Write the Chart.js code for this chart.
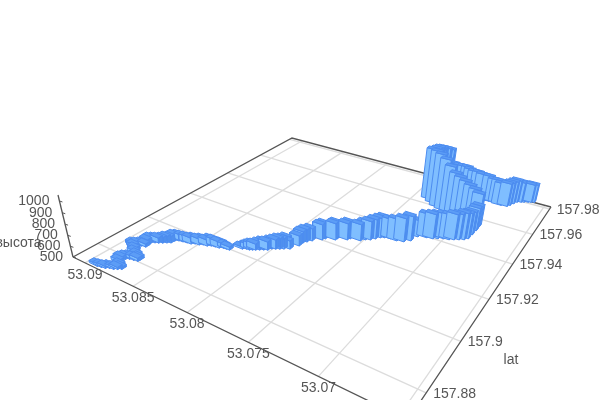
<!DOCTYPE html>
<html><head><meta charset="utf-8">
<style>html,body{margin:0;padding:0;background:#fff}canvas{display:block}</style>
<script src="https://cdn.jsdelivr.net/npm/chart.js@4"></script></head>
<body><canvas id="c" width="600" height="400"></canvas>
<script>
const lonTicks=[53.09,53.085,53.08,53.075,53.07,53.065];
const latTicks=[157.98,157.96,157.94,157.92,157.9,157.88];
const altTicks=[500,600,700,800,900,1000];
const lonLabels=['53.09','53.085','53.08','53.075','53.07'];
const latLabels=['157.98','157.96','157.94','157.92','157.9','157.88'];
const barLon=[53.08933,53.08899,53.08866,53.08842,53.08809,53.08785,53.08762,53.08798,53.08834,53.08852,53.08839,53.08815,53.08780,53.08746,53.08744,53.08787,53.08830,53.08861,53.08899,53.08927,53.08902,53.08878,53.08842,53.08851,53.08854,53.08828,53.08803,53.08778,53.08753,53.08728,
53.08724,53.08698,53.08663,53.08627,53.08592,53.08567,53.08532,53.08507,53.08472,53.08447,53.08413,53.08379,53.08354,53.08326,53.08298,53.08227,53.08202,53.08175,53.08156,53.08137,53.08113,53.08088,53.08063,53.08047,53.08022,53.07997,53.07972,53.07956,53.07935,53.07903,
53.07903,53.07886,53.07862,53.07807,53.07795,53.07724,53.07719,53.07647,53.07636,53.07557,53.07532,53.07500,53.07475,53.07451,53.07425,53.07379,53.07327,53.07276,53.07238,53.07219,53.07155,53.07110,53.07078,53.07039,53.07001,53.06969,53.06937,53.06905,53.06885,53.06881,
53.06878,53.06880,53.06899,53.06937,53.06983,53.07029,53.07076,53.07123,53.07171,53.07220,53.07276,53.07334,53.07393,53.07395,53.07389,53.07375,53.07353,53.07332,53.07279,53.07235,53.07198,53.07162,53.07133,53.07097,53.07061,53.07019,53.06998,53.06962,53.06920,53.06886,
53.06852,53.06804,53.06788,53.06772,53.06756,53.06727,53.06706,53.06677,53.06656,53.06634];
const barLat=[157.8727,157.8730,157.8733,157.8740,157.8743,157.8749,157.8756,157.8764,157.8773,157.8787,157.8797,157.8804,157.8807,157.8810,157.8817,157.8825,157.8832,157.8844,157.8854,157.8860,157.8866,157.8873,157.8876,157.8888,157.8901,157.8908,157.8914,157.8921,157.8928,157.8935,
157.8950,157.8957,157.8960,157.8963,157.8965,157.8972,157.8975,157.8982,157.8984,157.8991,157.8994,157.8996,157.9003,157.9004,157.9005,157.9031,157.9038,157.9039,157.9044,157.9049,157.9056,157.9063,157.9069,157.9081,157.9087,157.9094,157.9101,157.9113,157.9111,157.9141,
157.9162,157.9173,157.9187,157.9209,157.9220,157.9232,157.9241,157.9253,157.9264,157.9271,157.9285,157.9293,157.9307,157.9322,157.9329,157.9334,157.9334,157.9341,157.9358,157.9392,157.9403,157.9408,157.9417,157.9427,157.9431,157.9439,157.9448,157.9457,157.9470,157.9500,
157.9531,157.9560,157.9571,157.9576,157.9579,157.9583,157.9586,157.9590,157.9593,157.9597,157.9607,157.9626,157.9645,157.9681,157.9702,157.9715,157.9731,157.9746,157.9741,157.9744,157.9745,157.9746,157.9744,157.9745,157.9746,157.9739,157.9745,157.9746,157.9749,157.9749,
157.9741,157.9745,157.9758,157.9776,157.9794,157.9802,157.9808,157.9816,157.9821,157.9827];
const barAlt=[519,519,519,519,519,519,519,519,528,528,528,528,528,528,528,528,529,529,529,529,529,529,529,548,548,548,548,548,558,558,
558,558,558,558,558,558,558,558,558,567,567,558,548,538,529,519,529,548,557,557,567,577,577,577,586,596,596,596,577,596,
606,616,616,645,645,655,655,655,655,654,664,674,683,684,693,683,702,720,730,656,722,731,731,731,730,740,740,749,740,714,
715,698,794,815,835,855,876,896,945,994,1016,1011,996,971,963,954,936,917,794,783,782,782,771,760,760,759,749,748,727,727,
716,726,726,722,717,697,687,687,677,677];
// camera: ground-plane corners on screen plus the vertical vanishing point
const A={x:73,y:257},B={x:408,y:420},C={x:551,y:207},D={x:292,y:138};
const det=(p,q)=>p.x*q.y-p.y*q.x;
const dx1={x:B.x-C.x,y:B.y-C.y},dx2={x:D.x-C.x,y:D.y-C.y},s={x:A.x-B.x+C.x-D.x,y:A.y-B.y+C.y-D.y};
const g=det(s,dx2)/det(dx1,dx2),h=det(dx1,s)/det(dx1,dx2);
const a=B.x-A.x+g*B.x,b=D.x-A.x+h*D.x,c0=A.x,d=B.y-A.y+g*B.y,e=D.y-A.y+h*D.y,f=A.y;
const c3=-15/242,cx=300*c3,cy=195*(1+c3)-257;
function proj(u,v,z){const w=g*u+h*v+1+c3*z;return {x:(a*u+b*v+c0+cx*z)/w,y:(d*u+e*v+f+cy*z)/w};}
const uOf=lon=>(53.09134-lon)/(53.09134-53.0645);
const vOf=lat=>(lat-157.871)/(157.9817-157.871);
const zOf=alt=>(alt-500)/550;
function line(pts,col,w){return {data:pts,showLine:true,pointRadius:0,borderColor:col,borderWidth:w,fill:false,tension:0};}
const du=.033,dv=.016;
function poly(pts,col){return {data:[...pts,pts[0]],showLine:true,pointRadius:0,borderColor:'#4c8cf0',borderWidth:1,backgroundColor:col,fill:'shape',tension:0};}
const bars=barLon.map((lon,i)=>({u:uOf(lon),v:vOf(barLat[i]),z:zOf(barAlt[i])}));
bars.sort((m,n)=>(g*m.u+h*m.v)-(g*n.u+h*n.v));
const barSets=[];
bars.forEach(r=>{const u0=r.u-du/2,u1=r.u+du/2,v0=r.v-dv/2,v1=r.v+dv/2,z=r.z;
 barSets.push(poly([proj(u0,v0,z),proj(u1,v0,z),proj(u1,v1,z),proj(u0,v1,z)],'#5c9df6'));
 barSets.push(poly([proj(u0,v0,0),proj(u1,v0,0),proj(u1,v0,z),proj(u0,v0,z)],'#7fbeff'));
 barSets.push(poly([proj(u1,v0,0),proj(u1,v1,0),proj(u1,v1,z),proj(u1,v0,z)],'#4f90ee'));
});
const gridSets=[];
lonTicks.forEach(t=>gridSets.push(line([proj(uOf(t),0,0),proj(uOf(t),1,0)],'#dcdcdc',1.3)));
latTicks.forEach(t=>gridSets.push(line([proj(0,vOf(t),0),proj(1,vOf(t),0)],'#dcdcdc',1.3)));
const axisSets=[line([proj(0,0,0),proj(0,1,0),proj(1,1,0)],'#555',1.3),line([proj(0,0,0),proj(1,0,0),proj(1,1,0)],'#555',1.3),line([proj(0,0,0),proj(0,0,1)],'#555',1.3)];
altTicks.forEach(t=>{const p=proj(0,0,zOf(t));axisSets.push(line([p,{x:p.x+3,y:p.y+1}],'#555',1));});
const labels={id:'labels',afterDatasetsDraw(ch){const x=ch.ctx;x.save();x.fillStyle='#555';x.font='14px "Liberation Sans",Arial,sans-serif';x.textBaseline='middle';
 x.textAlign='center';lonTicks.slice(0,5).forEach((t,i)=>{const p=proj(uOf(t),0,0);x.fillText(lonLabels[i],p.x,p.y+12);});
 x.textAlign='left';latTicks.forEach((t,i)=>{const p=proj(1,vOf(t),0);x.fillText(latLabels[i],p.x+7,p.y+1);});
 x.textAlign='right';altTicks.forEach(t=>{const p=proj(0,0,zOf(t));x.fillText(String(t),p.x-10,p.y);});
 x.textAlign='center';x.fillText('высота',18.5,243);x.fillText('lat',511,360);x.restore();}};
new Chart(document.getElementById('c'),{type:'scatter',data:{datasets:[...barSets,...axisSets,...gridSets]},
 options:{responsive:false,animation:false,layout:{padding:0},scales:{x:{type:'linear',min:0,max:600,display:false},y:{type:'linear',min:0,max:400,reverse:true,display:false}},
 plugins:{legend:{display:false},tooltip:{enabled:false},filler:{drawTime:'beforeDatasetDraw',propagate:false}}},plugins:[labels]});
</script></body></html>
